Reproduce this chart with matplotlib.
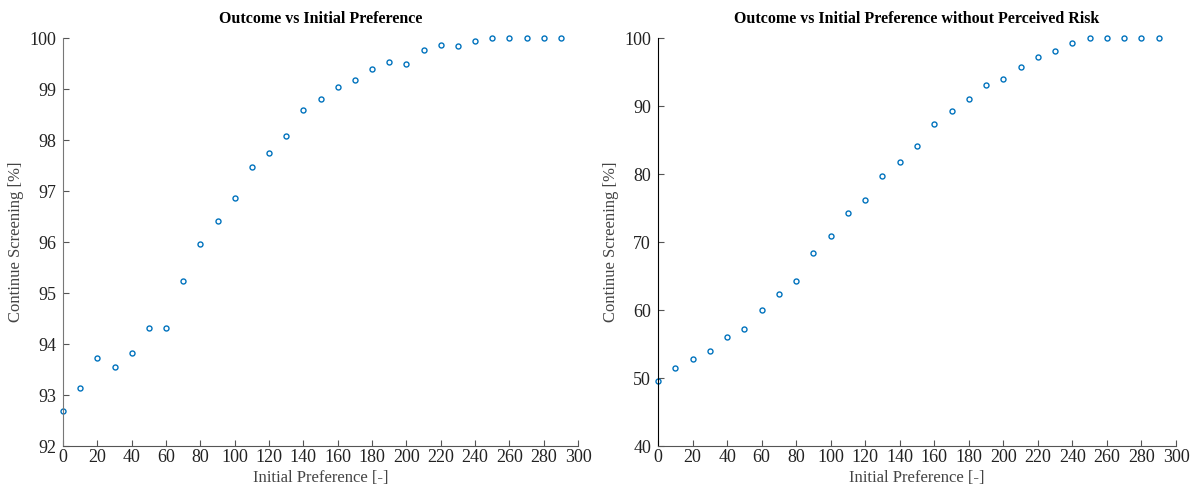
import numpy as np
import matplotlib
matplotlib.use("Agg")
import matplotlib.pyplot as plt

plt.rcParams['font.family'] = ['Liberation Serif', 'DejaVu Serif']

pref = [0, 10, 20, 30, 40, 50, 60, 70, 80, 90, 100, 110, 120, 130, 140,
        150, 160, 170, 180, 190, 200, 210, 220, 230, 240, 250, 260, 270, 280, 290]

# continue screening [%] with perceived risk
outcome = [92.68, 93.13, 93.73, 93.55, 93.82, 94.31, 94.31, 95.23, 95.97, 96.41,
           96.87, 97.48, 97.75, 98.08, 98.59, 98.81, 99.04, 99.17, 99.39, 99.52,
           99.49, 99.76, 99.86, 99.85, 99.94, 100.0, 100.0, 100.0, 100.0, 100.0]

# continue screening [%] without perceived risk
outcome_norisk = [49.6, 51.5, 52.8, 54.0, 56.1, 57.2, 60.0, 62.4, 64.2, 68.4,
                  70.9, 74.2, 76.2, 79.7, 81.7, 84.1, 87.3, 89.3, 91.0, 93.1,
                  94.0, 95.8, 97.2, 98.1, 99.3, 100.0, 100.0, 100.0, 100.0, 100.0]

fig = plt.figure(figsize=(11.9, 4.86), dpi=100)
ax1 = fig.add_axes([63/1190, 40/486, 515/1190, 408/486])
ax2 = fig.add_axes([658/1190, 40/486, 518/1190, 408/486])

def style(ax, ycol):
    for s in ['top', 'right']:
        ax.spines[s].set_visible(False)
    ax.spines['bottom'].set_color('#555555')
    ax.spines['left'].set_color(ycol)
    ax.tick_params(direction='in', length=4, colors='#555555', labelcolor='#222222',
                   labelsize=13)
    ax.tick_params(axis='x', pad=2)
    ax.tick_params(axis='y', pad=5)
    ax.set_xlim(0, 300)
    ax.set_xticks(np.arange(0, 301, 20))
    ax.set_xlabel('Initial Preference [-]', fontsize=12, color='#444444', labelpad=3)
    ax.set_ylabel('Continue Screening [%]', fontsize=12, color='#444444', labelpad=4)

ax1.plot(pref, outcome, 'o', mfc='none', mec='#0072BD', ms=3.6, mew=1.0, clip_on=False)
style(ax1, '#777777')
ax1.set_ylim(92, 100)
ax1.set_title('Outcome vs Initial Preference', fontsize=11.5, fontweight='bold', pad=11)

ax2.plot(pref, outcome_norisk, 'o', mfc='none', mec='#0072BD', ms=3.6, mew=1.0, clip_on=False)
style(ax2, '#000000')
ax2.set_ylim(40, 100)
ax2.set_title('Outcome vs Initial Preference without Perceived Risk', fontsize=11.5,
              fontweight='bold', pad=11)

fig.savefig('out.png', dpi=100)
